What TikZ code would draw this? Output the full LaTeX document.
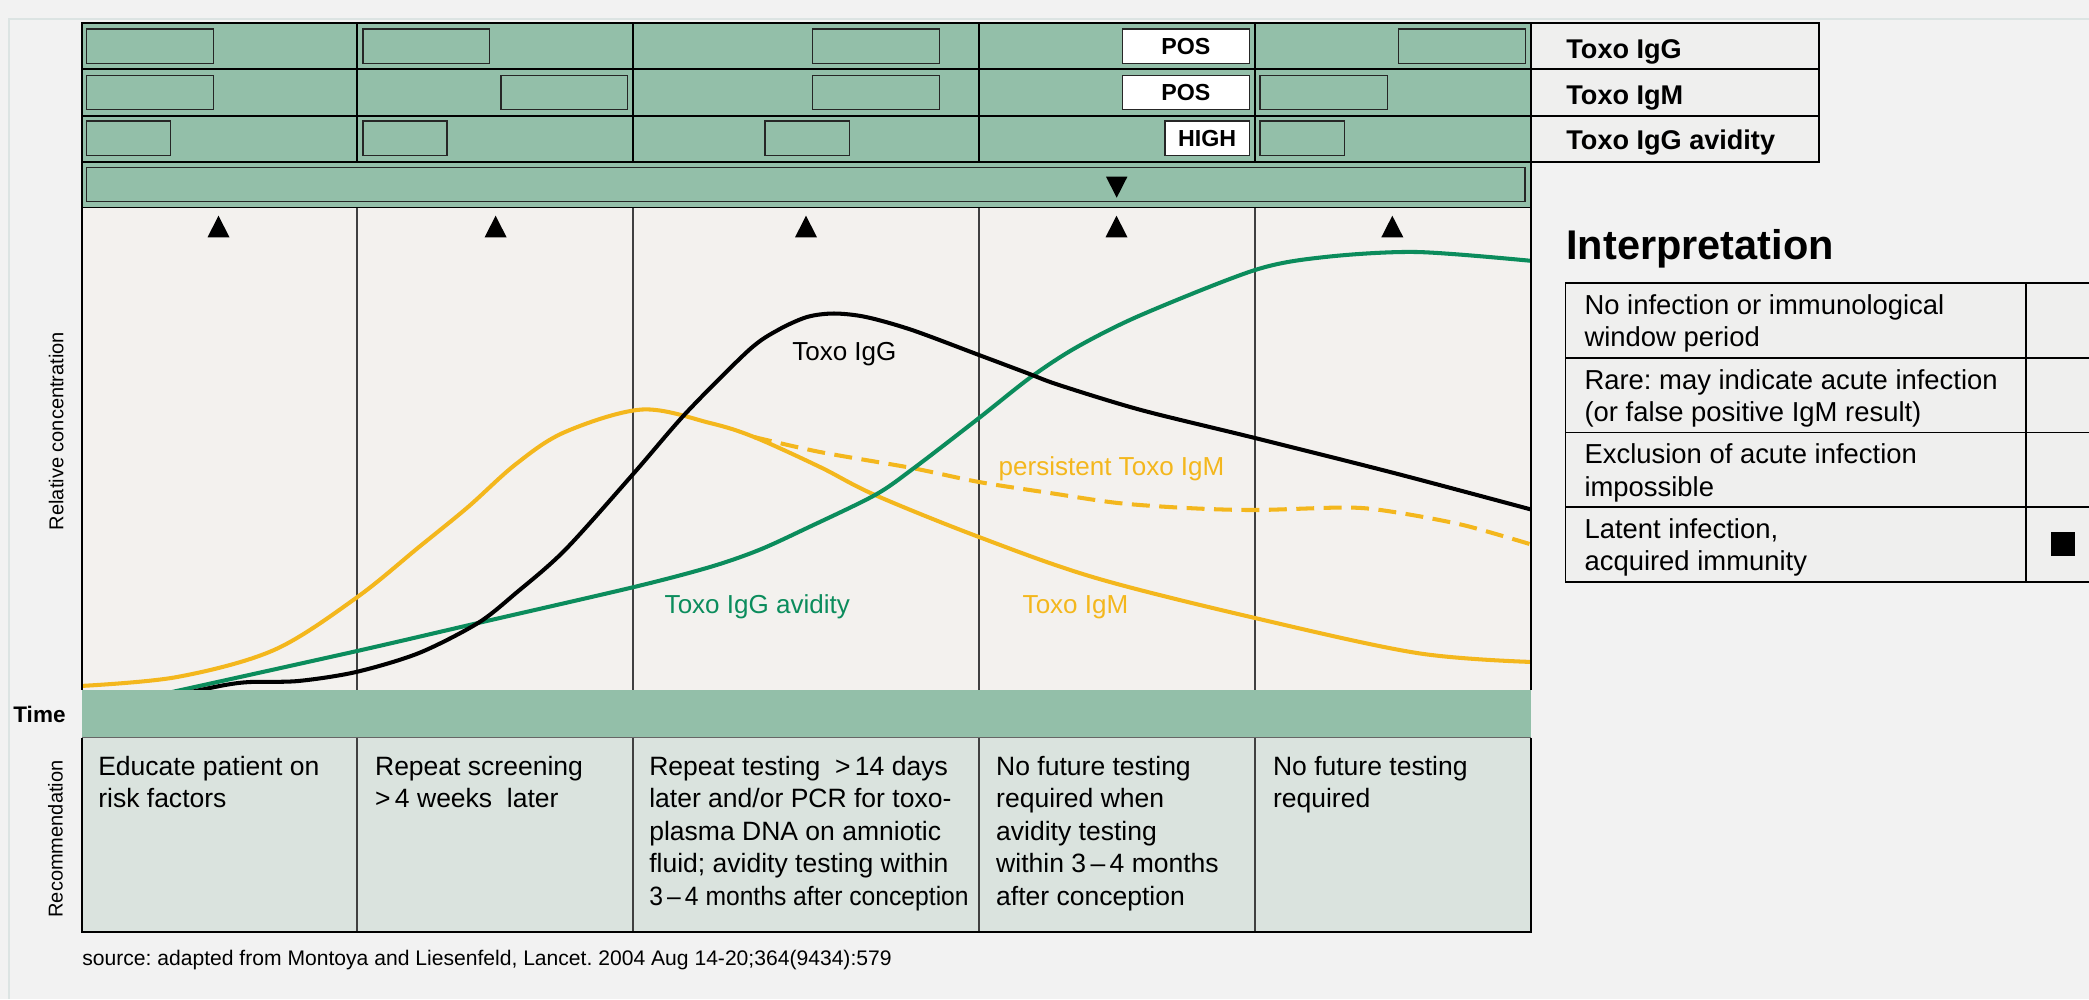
\documentclass[tikz,border=0pt]{standalone}
\usepackage{fontspec}
\setmainfont{Liberation Sans}
\frenchspacing
\definecolor{bgc}{HTML}{F2F2F2}
\definecolor{framec}{HTML}{DCE4E3}
\definecolor{hdr}{HTML}{93BFA9}
\definecolor{recfill}{HTML}{DAE3DE}
\definecolor{chartbg}{HTML}{F3F1EE}
\definecolor{labelbg}{HTML}{EFEFEE}
\definecolor{cyellow}{HTML}{F3B71D}
\definecolor{cgreen}{HTML}{0B8C5C}
\newcommand{\myfs}[2]{\fontsize{#1}{#2}\selectfont}
\newcommand{\mylines}[1]{\begin{tabular}[t]{@{}l@{}}#1\end{tabular}}
\tikzset{
  gridline/.style={draw=black, line width=0.45pt},
  cdiv/.style={draw=black!75, line width=0.3pt},
  ibox/.style={draw=black!85, line width=0.4pt},
  whitebox/.style={draw=black!85, line width=0.4pt, fill=white, inner sep=0pt,
     font=\bfseries\myfs{6.6}{8}},
  tri/.style={fill=black},
  curve/.style={line width=1.15pt, line join=round, line cap=round},
  lbltxt/.style={anchor=base west, inner sep=0pt, font=\bfseries\myfs{7.7}{9}},
  curvelbl/.style={anchor=base west, inner sep=0pt, font=\myfs{7.4}{9}},
  rectxt/.style={anchor=base west, inner sep=0pt, font=\myfs{7.54}{9.25}},
  interptxt/.style={anchor=base west, inner sep=0pt, font=\myfs{7.8}{9.2}},
  sidetxt/.style={anchor=base, inner sep=0pt, rotate=90, font=\myfs{5.7}{7}}
}
\begin{document}
\begin{tikzpicture}[x=0.01cm,y=-0.01cm]
\useasboundingbox (0,0) rectangle (2089,999);
\clip (0,0) rectangle (2089,999);
\fill[bgc] (0,0) rectangle (2089,999);
\draw[framec, line width=0.4pt] (9,999) -- (9,19) -- (2089,19);

% ---------- header (test results) ----------
\fill[hdr] (82,23) rectangle (1531,208);
\foreach \y in {69,116,162} \draw[gridline] (82,\y) -- (1531,\y);
\foreach \x in {357,633,979,1255} \draw[gridline] (\x,23) -- (\x,162);
% row 1
\draw[ibox] (86.6,29) rectangle (213.4,63.3);
\draw[ibox] (363,29) rectangle (489.7,63.3);
\draw[ibox] (812.5,29) rectangle (939.3,63.3);
\draw[ibox] (1398.6,29) rectangle (1525.4,63.3);
% row 2
\draw[ibox] (86.6,75.3) rectangle (213.4,109.3);
\draw[ibox] (501,75.3) rectangle (627.7,109.3);
\draw[ibox] (812.5,75.3) rectangle (939.3,109.3);
\draw[ibox] (1260,75.3) rectangle (1387.6,109.3);
% row 3
\draw[ibox] (86.6,121) rectangle (170.5,155.3);
\draw[ibox] (363,121) rectangle (446.9,155.3);
\draw[ibox] (764.8,121) rectangle (849.2,155.3);
\draw[ibox] (1260,121) rectangle (1344.6,155.3);
% white result boxes
\node[whitebox, minimum width=1.269cm, minimum height=0.343cm] (posg) at (1185.85,46.15) {POS};
\node[whitebox, minimum width=1.269cm, minimum height=0.34cm] (posm) at (1185.85,92.3) {POS};
\node[whitebox, minimum width=0.843cm, minimum height=0.343cm] (high) at (1207.15,138.15) {HIGH};
% avidity bar
\draw[ibox] (86.6,167.3) rectangle (1525,201.3);
\fill[tri] (1106,176.7) -- (1127.4,176.7) -- (1116.7,197.7) -- cycle;
\draw[gridline] (82,23) rectangle (1531,208);

% ---------- chart ----------
\fill[chartbg] (82,208) rectangle (1531,690);
\foreach \x in {357,633,979,1255} \draw[cdiv] (\x,208) -- (\x,690);
\foreach \x in {218.5,495.6,806,1116.5,1392.3}
  \fill[tri] (\x-11,237.3) -- (\x+11,237.3) -- (\x,215.7) -- cycle;
\begin{scope}
\clip (82,208) rectangle (1531,690);
% Toxo IgM (solid)
\draw[curve, cyellow] plot[smooth, tension=0.55] coordinates {
 (80,686) (177,677) (274,650) (356,598) (419,547) (468,507) (516,464)
 (565,432) (642,409.5) (710,423) (754,437) (820,467)
 (875,495) (979,537) (1096,578) (1255,618) (1417,653) (1533,662)};
% persistent Toxo IgM (dashed)
\draw[curve, cyellow, line cap=butt, dash pattern=on 5.1pt off 2.7pt] plot[smooth, tension=0.5] coordinates {
 (754,437) (820,452) (912,468) (979,482) (1050,493) (1118,503) (1187,508)
 (1255,510) (1348,507.5) (1394,512) (1463,525) (1533,545)};
% Toxo IgG avidity
\draw[curve, cgreen] plot[smooth, tension=0.5] coordinates {
 (172,692) (357,651) (478,623) (634,587) (710,567) (759,550)
 (807,528) (875,495) (914,468) (979,418) (1031,377) (1077,347) (1141,315)
 (1255,270) (1325,257) (1417,252) (1533,261)};
% Toxo IgG
\draw[curve, black] plot[smooth, tension=0.5] coordinates {
 (186,693) (225,685) (250,682) (298,681) (356,672) (419,653) (478,623)
 (516,593) (565,550) (634,473) (686,413) (749,350) (778,330) (807,317)
 (834,313.5) (866,317) (912,330) (979,355) (1027,373) (1059,385) (1141,410)
 (1255,438) (1394,473) (1533,510)};
\end{scope}
\draw[gridline] (82,208) -- (82,690);
\draw[gridline] (1531,208) -- (1531,690);
\node[curvelbl] (lblg) at (791.6,360) {Toxo IgG};
\node[curvelbl, text=cgreen] (lblav) at (664,613.3) {Toxo IgG avidity};
\node[curvelbl, text=cyellow] (lblpm) at (998,475) {persistent Toxo IgM};
\node[curvelbl, text=cyellow] (lblm) at (1022,613.3) {Toxo IgM};

% ---------- time bar and recommendation ----------
\fill[hdr] (82,690) rectangle (1531,737.7);
\fill[recfill] (82,737.7) rectangle (1531,932);
\foreach \x in {357,633,979,1255} \draw[cdiv] (\x,737.7) -- (\x,932);
\draw[gridline] (82,737.7) -- (82,932) -- (1531,932) -- (1531,737.7);
\draw[black!60, line width=0.3pt] (82,737.7) -- (1531,737.7);

\node[rectxt] (rec1) at (97.6,775) {\mylines{Educate patient on\\risk factors}};
\node[rectxt] (rec2) at (374.4,775) {\mylines{Repeat screening\\>\,4 weeks\ \ later}};
\node[rectxt] (rec3) at (648.6,775) {\mylines{Repeat testing\ \ >\,14 days\\later and/or PCR for toxo-\\plasma DNA on amniotic\\fluid; avidity testing within\\\scalebox{0.93}[1]{3\,–\,4 months after conception}}};
\node[rectxt] (rec4) at (995.5,775) {\mylines{No future testing\\required when\\avidity testing\\within 3\,–\,4 months\\after conception}};
\node[rectxt] (rec5) at (1272.3,775) {\mylines{No future testing\\required}};

% ---------- side labels ----------
\node[sidetxt] (relc) at (63.3,431) {Relative concentration};
\node[sidetxt] (recl) at (62.7,839) {Recommendation};
\node[anchor=base west, inner sep=0pt, font=\bfseries\myfs{6.4}{8}] (time) at (12.7,722.3) {Time};

% ---------- label table ----------
\draw[gridline, fill=labelbg] (1531,23) rectangle (1819,162);
\draw[gridline] (1531,69) -- (1819,69);
\draw[gridline] (1531,116) -- (1819,116);
\node[lbltxt] (tigg) at (1565.7,58.3) {Toxo IgG};
\node[lbltxt] (tigm) at (1565.7,104) {Toxo IgM};
\node[lbltxt] (tav) at (1565.7,149.5) {Toxo IgG avidity};

% ---------- interpretation ----------
\node[anchor=base west, inner sep=0pt, font=\bfseries\myfs{11.8}{14}] (interp) at (1565.7,259.3) {Interpretation};
\draw[gridline, fill=labelbg] (1565.6,282.7) rectangle (2100,581.7);
\foreach \y in {357.7,432.3,507} \draw[gridline] (1565.6,\y) -- (2100,\y);
\draw[gridline] (2026,282.7) -- (2026,581.7);
\fill[black] (2051,532) rectangle (2075,556);
\node[interptxt] (i1) at (1583.8,314.3) {\mylines{No infection or immunological\\window period}};
\node[interptxt] (i2) at (1583.8,389.3) {\mylines{Rare: may indicate acute infection\\(or false positive IgM result)}};
\node[interptxt] (i3) at (1583.8,463.9) {\mylines{Exclusion of acute infection\\impossible}};
\node[interptxt] (i4) at (1583.8,538.6) {\mylines{Latent infection,\\acquired immunity}};

% ---------- source ----------
\node[anchor=base west, inner sep=0pt, font=\myfs{6}{7}] (src) at (81.6,965) {source: adapted from Montoya and Liesenfeld, Lancet. 2004 Aug 14-20;364(9434):579};
\end{tikzpicture}
\end{document}
